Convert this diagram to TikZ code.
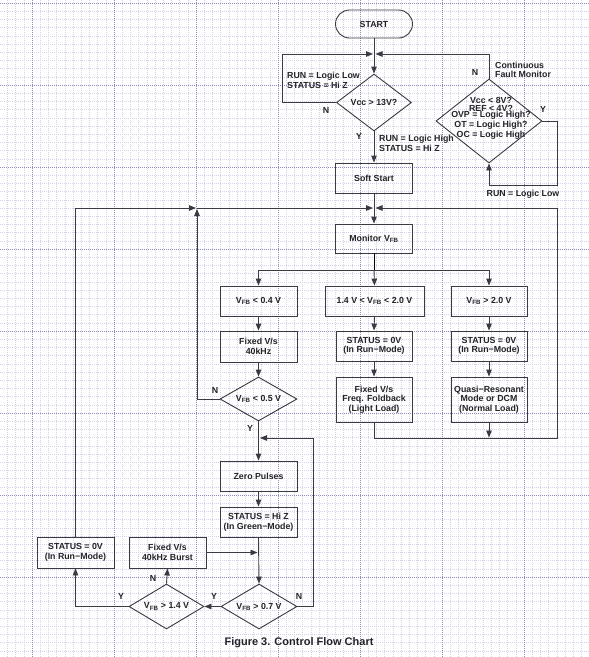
\documentclass[tikz,border=0pt]{standalone}
\usepackage{fontspec}
\setmainfont{Liberation Sans}
\usetikzlibrary{arrows.meta,shapes.geometric,calc}
\definecolor{flowLine}{RGB}{58,58,66}
\definecolor{flowText}{RGB}{35,35,40}
\definecolor{gridMinor}{RGB}{210,210,234}
\definecolor{gridMajor}{RGB}{140,140,192}

\begin{document}
\begin{tikzpicture}[x=1pt, y=-1pt,
    every node/.style={font=\fontsize{8.8}{9.6}\selectfont\bfseries, text=flowText},
    blk/.style={rectangle, draw=flowLine, line width=0.9pt, align=center,
                minimum width=77pt, minimum height=30pt, inner sep=1pt},
    term/.style={blk, rounded corners=14pt, minimum height=28pt},
    dec/.style={diamond, draw=flowLine, line width=0.9pt, align=center,
                inner sep=0pt, shape aspect=1.7},
    lbl/.style={inner sep=1pt},
    arr/.style={-{Triangle[length=7pt,width=5.5pt]}, draw=flowLine, line width=0.9pt},
    gmin/.style={gridMinor, line width=0.6pt, dash pattern=on 0.9pt off 1.1pt},
    gmaj/.style={gridMajor, line width=0.7pt, dash pattern=on 0.9pt off 1.1pt}
  ]
  \fill[white] (0,0) rectangle (589,657);
  \useasboundingbox (0,0) rectangle (589,657);

  % grid
  \foreach \i in {-3,...,68} \draw[gmin] ({32+8.2*\i},0) -- ({32+8.2*\i},657);
  \foreach \j in {0,...,79} \draw[gmin] (0,{3+8.2*\j}) -- (589,{3+8.2*\j});
  \foreach \k in {0,...,6} \draw[gmaj] ({32+82*\k},0) -- ({32+82*\k},657);
  \foreach \k in {0,...,7} \draw[gmaj] (0,{3+82*\k}) -- (589,{3+82*\k});

  % start-up
  \node[term] (start) at (374,24) {START};
  \node[dec, minimum width=75pt, minimum height=57pt, shape aspect=1.3] (vcc) at (374,102.5) {Vcc > 13V?};
  \node[blk] (soft) at (374,178) {Soft Start};
  \node[dec, minimum width=106pt, minimum height=84pt] (fault) at (489,121) {};
  \node[lbl, align=center] (faulttxt) at (491,118) {Vcc < 8V?\\[-1.6pt] REF < 4V?\\[-3.6pt]
    OVP = Logic High?\\[0.4pt] OT = Logic High?\\[0.4pt] OC = Logic High};
  \node[blk, minimum height=29pt] (mon) at (374,238.5) {Monitor V\textsubscript{FB}};

  % three load ranges
  \node[blk] (low) at (258.5,301) {V\textsubscript{FB} < 0.4 V};
  \node[blk, minimum width=99pt] (mid) at (374.5,301) {1.4 V < V\textsubscript{FB} < 2.0 V};
  \node[blk, minimum width=76pt] (high) at (489,301) {V\textsubscript{FB} > 2.0 V};
  \node[blk, minimum height=31pt] (fix40) at (258.5,346.5) {Fixed V/s\\40kHz};
  \node[blk, minimum width=76pt] (midst) at (374,346) {STATUS = 0V\\(In Run−Mode)};
  \node[blk, minimum width=76pt] (highst) at (489,346) {STATUS = 0V\\(In Run−Mode)};
  \node[blk, minimum width=76pt, minimum height=45pt] (fold) at (374,399.5) {Fixed V/s\\Freq. Foldback\\(Light Load)};
  \node[blk, minimum width=76pt, minimum height=45pt] (quasi) at (489,399.5) {Quasi−Resonant\\Mode or DCM\\(Normal Load)};
  \node[dec, minimum width=77pt, minimum height=44pt] (dec05) at (258.5,399) {V\textsubscript{FB} < 0.5 V};

  % green mode
  \node[blk] (zero) at (258.5,476) {Zero Pulses};
  \node[blk] (green) at (258.5,522) {STATUS = Hi Z\\(In Green−Mode)};
  \node[dec, minimum width=76pt, minimum height=45pt] (dec07) at (259,606.5) {V\textsubscript{FB} > 0.7 V};
  \node[dec, minimum width=75pt, minimum height=45pt] (dec14) at (166.5,606.5) {V\textsubscript{FB} > 1.4 V};
  \node[blk, minimum height=31pt] (burst) at (167.5,552.5) {Fixed V/s\\40kHz Burst};
  \node[blk, minimum height=31pt] (runst) at (75.5,552.5) {STATUS = 0V\\(In Run−Mode)};

  \coordinate (jl) at (373,54);
  \coordinate (jr) at (375.5,54);
  \coordinate (lbend) at (282,54);
  \coordinate (fr) at (557,185);
  \coordinate (j2l) at (373,208);
  \coordinate (j2r) at (375.5,208);
  \coordinate (br) at (374,270);
  \coordinate (rb) at (557,438);
  \coordinate (qb) at (489,437.5);
  \coordinate (jc) at (197,208);
  \coordinate (jn) at (197,209);
  \coordinate (jw) at (196,208);
  \coordinate (jz) at (260,438);
  \coordinate (zr) at (313,438);
  \coordinate (jb) at (257.5,552.5);

  \draw[arr] (start.south) -- (vcc.north);
  \draw[arr] (vcc.west) -| (lbend) -- (jl);
  \draw[arr] (fault.north) |- (jr);
  \draw[arr] (fault.east) -| (fr) -| (fault.south);
  \draw[arr] (vcc.south) -- (soft.north);
  \draw[arr] (soft.south) -- (mon.north);
  \draw (mon.south) -- (br);
  \draw[arr] (br) -| (low.north);
  \draw[arr] (br) -- (mid.north);
  \draw[arr] (br) -| (high.north);
  \draw[arr] (low.south) -- (fix40.north);
  \draw[arr] (fix40.south) -- (dec05.north);
  \draw[arr] (mid.south) -- (midst.north);
  \draw[arr] (midst.south) -- (fold.north);
  \draw[arr] (high.south) -- (highst.north);
  \draw[arr] (highst.south) -- (quasi.north);
  \draw[arr] (quasi.south) -- (qb);
  \draw[arr] (fold.south) |- (rb) |- (j2r);
  \draw[arr] (dec05.west) -| (jn);
  \draw[arr] (runst.north) |- (jw);
  \draw[arr] (jc) -- (j2l);
  \draw[arr] (dec05.south) -- (zero.north);
  \draw[arr] (dec07.east) -| (zr) -- (jz);
  \draw[arr] (zero.south) -- (green.north);
  \draw[arr] (green.south) -- (dec07.north);
  \draw[arr] (burst.east) -- (jb);
  \draw[arr] (dec07.west) -- (dec14.east);
  \draw[arr] (dec14.north) -- (burst.south);
  \draw[arr] (dec14.west) -| (runst.south);

  \node[lbl] (nvcc) at (326,110) {N};
  \node[lbl, align=left, anchor=west] (runlo) at (286,80.5) {RUN = Logic Low\\STATUS = Hi Z};
  \node[lbl] (yvcc) at (359,136) {Y};
  \node[lbl, align=left, anchor=west] (runhi) at (378,143.5) {RUN = Logic High\\STATUS = Hi Z};
  \node[lbl] (nfault) at (475,72) {N};
  \node[lbl, align=left, anchor=west] (cfm) at (494,70) {Continuous\\Fault Monitor};
  \node[lbl] (yfault) at (543,109) {Y};
  \node[lbl] (runlo2) at (523,194) {RUN = Logic Low};
  \node[lbl] (n05) at (215,390) {N};
  \node[lbl] (y05) at (250,428) {Y};
  \node[lbl] (n07) at (299,596) {N};
  \node[lbl] (y07) at (214,596) {Y};
  \node[lbl] (n14) at (153,578) {N};
  \node[lbl] (y14) at (121,596) {Y};
  \node[font=\fontsize{11}{13}\selectfont\bfseries] (cap) at (299,643) {Figure 3. Control Flow Chart};
\end{tikzpicture}
\end{document}
